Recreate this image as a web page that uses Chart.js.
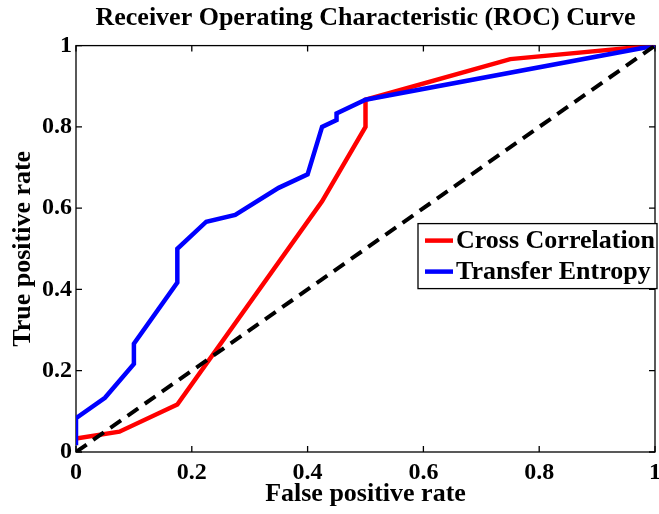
<!DOCTYPE html>
<html>
<head>
<meta charset="utf-8">
<script src="https://cdn.jsdelivr.net/npm/chart.js@4.4.1/dist/chart.umd.min.js"></script>
<style>
  html, body { margin: 0; padding: 0; background: #fff; }
  #wrap { width: 659px; height: 514px; }
</style>
</head>
<body>
<div id="wrap"><canvas id="roc" width="659" height="514"></canvas></div>
<script>
// --- data ---
const ccX = [0, 0.075, 0.175, 0.425, 0.5, 0.5, 0.75, 1];
const ccY = [0.0333, 0.05, 0.1167, 0.6167, 0.8, 0.8667, 0.9667, 1];

const teX = [0, 0, 0.05, 0.1, 0.1, 0.175, 0.175, 0.225, 0.275, 0.35, 0.4, 0.425, 0.45, 0.45, 0.5, 1];
const teY = [0.0167, 0.0833, 0.1333, 0.2167, 0.2667, 0.4167, 0.5, 0.5667, 0.5833, 0.65, 0.6833, 0.8, 0.8167, 0.8333, 0.8667, 1];

const diagX = [0, 1];
const diagY = [0, 1];

const tickValues = [0, 0.2, 0.4, 0.6, 0.8, 1];
const tickLabels = ['0', '0.2', '0.4', '0.6', '0.8', '1'];

const FONT = 'Liberation Serif, Times New Roman, serif';

function toPoints(xs, ys) {
    return xs.map((x, i) => ({ x: x, y: ys[i] }));
}

function setTicks(s) {
    s.ticks = tickValues.map((v, i) => ({ value: v, label: tickLabels[i] }));
}

// cadre + graduations vers l'intérieur (style MATLAB)
const boxPlugin = {
    id: 'boxTicks',
    beforeDatasetsDraw(chart) {
        const { ctx, chartArea: a, scales } = chart;
        const len = 6;
        ctx.save();
        ctx.strokeStyle = '#000';
        ctx.lineWidth = 1.3;
        ctx.strokeRect(a.left, a.top, a.right - a.left, a.bottom - a.top);
        ctx.beginPath();
        tickValues.forEach(v => {
            const px = scales.x.getPixelForValue(v);
            ctx.moveTo(px, a.bottom); ctx.lineTo(px, a.bottom - len);
            ctx.moveTo(px, a.top); ctx.lineTo(px, a.top + len);
            const py = scales.y.getPixelForValue(v);
            ctx.moveTo(a.left, py); ctx.lineTo(a.left + len, py);
            ctx.moveTo(a.right, py); ctx.lineTo(a.right - len, py);
        });
        ctx.stroke();
        ctx.restore();
    }
};

// légende encadrée
const legendPlugin = {
    id: 'boxLegend',
    afterDraw(chart) {
        const { ctx, chartArea: a } = chart;
        const items = chart.data.datasets.filter(d => d.label);
        const left = a.left + 342, top = a.top + 178;
        const w = a.right - left + 2, rowH = 31;
        const h = rowH * items.length + 3;
        ctx.save();
        ctx.fillStyle = '#fff';
        ctx.fillRect(left, top, w, h);
        ctx.strokeStyle = '#000';
        ctx.lineWidth = 1.3;
        ctx.strokeRect(left, top, w, h);
        ctx.font = 'bold 26px ' + FONT;
        ctx.textBaseline = 'middle';
        ctx.fillStyle = '#000';
        items.forEach((d, i) => {
            const cy = top + 17 + i * rowH;
            ctx.strokeStyle = d.borderColor;
            ctx.lineWidth = 4.5;
            ctx.beginPath();
            ctx.moveTo(left + 7, cy);
            ctx.lineTo(left + 35, cy);
            ctx.stroke();
            ctx.fillText(d.label, left + 38, cy + 1);
        });
        ctx.restore();
    }
};

const ctx = document.getElementById('roc').getContext('2d');
new Chart(ctx, {
    type: 'scatter',
    data: {
        datasets: [
            {
                label: 'Cross Correlation',
                data: toPoints(ccX, ccY),
                borderColor: '#ff0000',
                backgroundColor: '#ff0000',
                borderWidth: 4.5,
                showLine: true,
                pointRadius: 0,
                order: 3
            },
            {
                label: 'Transfer Entropy',
                data: toPoints(teX, teY),
                borderColor: '#0000ff',
                backgroundColor: '#0000ff',
                borderWidth: 4.5,
                showLine: true,
                pointRadius: 0,
                order: 2
            },
            {
                label: '',
                data: toPoints(diagX, diagY),
                borderColor: '#000',
                borderWidth: 4,
                borderDash: [13, 8],
                showLine: true,
                pointRadius: 0,
                order: 1
            }
        ]
    },
    options: {
        responsive: false,
        animation: false,
        devicePixelRatio: 1,
        layout: { padding: { left: 0, right: 4, top: 0, bottom: 0 } },
        plugins: {
            legend: { display: false },
            tooltip: { enabled: false },
            title: {
                display: true,
                fullSize: false,
                text: 'Receiver Operating Characteristic (ROC) Curve',
                color: '#000',
                font: { family: FONT, size: 26, weight: 'bold', lineHeight: 1.1 },
                padding: { top: 4, bottom: 13 }
            }
        },
        scales: {
            x: {
                type: 'linear',
                min: 0,
                max: 1,
                afterFit: s => { s.height = 62; s.paddingLeft = 0; s.paddingRight = 0; },
                afterBuildTicks: setTicks,
                grid: { display: false, drawTicks: false },
                border: { display: false },
                ticks: {
                    color: '#000',
                    padding: 6,
                    maxRotation: 0,
                    autoSkip: false,
                    callback: (v, i) => tickLabels[i],
                    font: { family: FONT, size: 24, weight: 'bold' }
                },
                title: {
                    display: true,
                    text: 'False positive rate',
                    color: '#000',
                    font: { family: FONT, size: 26, weight: 'bold', lineHeight: 1.2 },
                    padding: { top: 0, bottom: 4 }
                }
            },
            y: {
                type: 'linear',
                min: 0,
                max: 1,
                afterFit: s => { s.width = 76; s.paddingTop = 0; s.paddingBottom = 0; },
                afterBuildTicks: setTicks,
                grid: { display: false, drawTicks: false },
                border: { display: false },
                ticks: {
                    color: '#000',
                    padding: 4,
                    autoSkip: false,
                    callback: (v, i) => tickLabels[i],
                    font: { family: FONT, size: 24, weight: 'bold' }
                },
                title: {
                    display: true,
                    text: 'True positive rate',
                    color: '#000',
                    font: { family: FONT, size: 26, weight: 'bold', lineHeight: 1.2 },
                    padding: { top: 8, bottom: 0 }
                }
            }
        }
    },
    plugins: [boxPlugin, legendPlugin]
});
</script>
</body>
</html>
